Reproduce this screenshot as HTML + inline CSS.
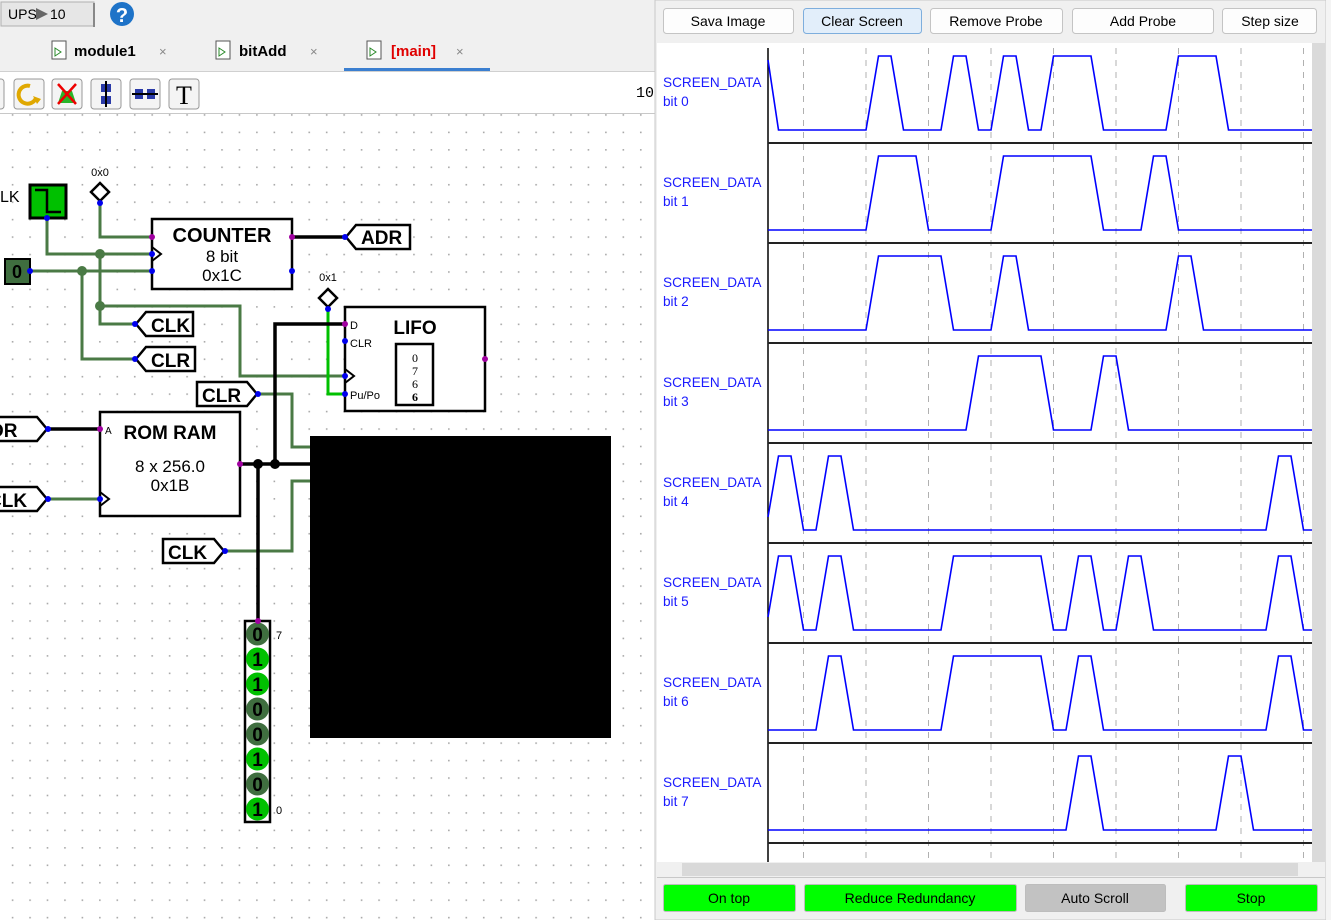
<!DOCTYPE html>
<html><head><meta charset="utf-8"><style>
html,body{margin:0;padding:0;width:1331px;height:920px;overflow:hidden;background:#f0f0f0;font-family:"Liberation Sans",sans-serif}
svg{display:block}
</style></head><body>
<svg width="1331" height="920" viewBox="0 0 1331 920" xmlns="http://www.w3.org/2000/svg" font-family="Liberation Sans, sans-serif">
<defs>
<pattern id="dots" x="3.8" y="228.3" width="17.45" height="17.45" patternUnits="userSpaceOnUse">
<rect x="8" y="8" width="1.6" height="1.6" fill="#a8a8a8"/>
</pattern>
</defs>
<rect x="0" y="0" width="655" height="72" fill="#f0f0f0"/>
<rect x="1" y="2" width="93" height="24" fill="#e6e6e6" stroke="#b0b0b0"/>
<line x1="94" y1="3" x2="94" y2="27" stroke="#888" stroke-width="2"/>
<text x="8" y="19" font-size="14" fill="#000">UPS</text>
<polygon points="36,8 36,20 48,14" fill="#666"/>
<text x="50" y="19" font-size="14">10</text>
<circle cx="122" cy="14" r="12" fill="#1e73c8"/>
<text x="122" y="22" font-size="20" font-weight="bold" fill="#fff" text-anchor="middle">?</text>
<g font-size="15" font-weight="bold">
<rect x="52" y="41" width="14" height="18" fill="#fff" stroke="#555"/><polygon points="55,48 55,56 61,52" fill="none" stroke="#2a8a2a"/>
<text x="74" y="56">module1</text><text x="159" y="56" font-weight="normal" fill="#888" font-size="13">×</text>
<rect x="216" y="41" width="14" height="18" fill="#fff" stroke="#555"/><polygon points="219,48 219,56 225,52" fill="none" stroke="#2a8a2a"/>
<text x="239" y="56">bitAdd</text><text x="310" y="56" font-weight="normal" fill="#888" font-size="13">×</text>
<rect x="367" y="41" width="14" height="18" fill="#fff" stroke="#555"/><polygon points="370,48 370,56 376,52" fill="none" stroke="#2a8a2a"/>
<text x="391" y="56" fill="#e00000">[main]</text><text x="456" y="56" font-weight="normal" fill="#888" font-size="13">×</text>
</g>
<rect x="344" y="68" width="146" height="3" fill="#3b7fd0"/>
<line x1="0" y1="71.5" x2="655" y2="71.5" stroke="#d0d0d0"/>
<rect x="0" y="72" width="655" height="848" fill="#fff"/>
<line x1="0" y1="113.5" x2="655" y2="113.5" stroke="#c8c8c8"/>
<rect x="0" y="114" width="655" height="806" fill="url(#dots)"/>
<g fill="#f4f4f4" stroke="#999">
<rect x="-6" y="79" width="10" height="30" rx="3"/>
<rect x="14" y="79" width="30" height="30" rx="3"/>
<rect x="52" y="79" width="30" height="30" rx="3"/>
<rect x="91" y="79" width="30" height="30" rx="3"/>
<rect x="130" y="79" width="30" height="30" rx="3"/>
<rect x="169" y="79" width="30" height="30" rx="3"/>
</g>
<path d="M36,98 A9,9 0 1 1 30,86" fill="none" stroke="#e0a800" stroke-width="4"/>
<polygon points="33,96 41,99 37,104" fill="#e0a800"/>
<polygon points="62,91 72,91 76,103 58,103" fill="#2ab52a"/>
<line x1="58" y1="84" x2="76" y2="104" stroke="#e00" stroke-width="2.5"/><line x1="76" y1="84" x2="58" y2="104" stroke="#e00" stroke-width="2.5"/>
<rect x="101" y="84" width="10" height="8" fill="#2a3aa8"/><rect x="101" y="96" width="10" height="8" fill="#2a3aa8"/><line x1="106" y1="81" x2="106" y2="107" stroke="#000" stroke-width="2"/>
<rect x="135" y="89" width="8" height="10" fill="#2a3aa8"/><rect x="147" y="89" width="8" height="10" fill="#2a3aa8"/><line x1="132" y1="94" x2="158" y2="94" stroke="#000" stroke-width="2"/>
<text x="184" y="104" font-family="Liberation Serif, serif" font-size="26" text-anchor="middle">T</text>
<text x="636" y="97" font-family="Liberation Mono, monospace" font-size="15">10</text>

<g fill="none" stroke="#4a7a45" stroke-width="3">
<polyline points="100,203 100,237 152,237"/>
<polyline points="47,218 47,254 152,254"/>
<polyline points="30,271 152,271"/>
<polyline points="100,254 100,324 135,324"/>
<polyline points="100,306 240,306 240,376 345,376"/>
<polyline points="82,271 82,359 135,359"/>
<polyline points="258,394 292,394 292,447 310,447"/>
<polyline points="225,551 292,551 292,481 310,481"/>
<polyline points="48,499 100,499"/>
</g>
<polyline points="328,309 328,394 345,394" fill="none" stroke="#00c000" stroke-width="3"/>
<g fill="none" stroke="#000" stroke-width="3.5">
<line x1="292" y1="237" x2="345" y2="237"/>
<polyline points="345,324 275,324 275,464"/>
<line x1="240" y1="464" x2="310" y2="464"/>
<line x1="258" y1="464" x2="258" y2="621"/>
<line x1="48" y1="429" x2="100" y2="429"/>
</g>
<g fill="#4a7a45"><circle cx="100" cy="254" r="5"/><circle cx="82" cy="271" r="5"/><circle cx="100" cy="306" r="5"/></g>
<g fill="#000"><circle cx="258" cy="464" r="5"/><circle cx="275" cy="464" r="5"/></g>

<text x="0" y="202" font-size="16">LK</text>
<rect x="30" y="185" width="36" height="33" fill="#00c000" stroke="#000" stroke-width="3"/>
<polyline points="35,190 47,190 47,212 61,212" fill="none" stroke="#000" stroke-width="2.5"/>
<text x="100" y="176" font-size="11" text-anchor="middle">0x0</text>
<polygon points="100,183 109,192 100,201 91,192" fill="#fff" stroke="#000" stroke-width="2.5"/>
<rect x="5" y="259" width="25" height="25" fill="#3f6e3f" stroke="#000" stroke-width="2"/>
<text x="17" y="278" font-size="18" font-weight="bold" text-anchor="middle">0</text>

<rect x="152" y="219" width="140" height="70" fill="#fff" stroke="#000" stroke-width="2.5"/>
<polyline points="152,247 161,254 152,261" fill="none" stroke="#000" stroke-width="2"/>
<text x="222" y="242" font-size="20" font-weight="bold" text-anchor="middle">COUNTER</text>
<text x="222" y="262" font-size="17" text-anchor="middle">8 bit</text>
<text x="222" y="281" font-size="17" text-anchor="middle">0x1C</text>

<g fill="#fff" stroke="#000" stroke-width="2.5">
<polygon points="346,237 356,225 410,225 410,249 356,249"/>
<polygon points="136,324 146,312 193,312 193,336 146,336"/>
<polygon points="136,359 146,347 195,347 195,371 146,371"/>
<polygon points="257,394 247,382 197,382 197,406 247,406"/>
<polygon points="224,551 214,539 163,539 163,563 214,563"/>
<polygon points="47,429 37,417 -10,417 -10,441 37,441"/>
<polygon points="47,499 37,487 -10,487 -10,511 37,511"/>
</g>
<g font-size="19" font-weight="bold">
<text x="361" y="244">ADR</text>
<text x="151" y="332">CLK</text>
<text x="151" y="367">CLR</text>
<text x="202" y="402">CLR</text>
<text x="168" y="559">CLK</text>
<text x="-10" y="437">DR</text>
<text x="-12" y="507">CLK</text>
</g>

<text x="328" y="281" font-size="11" text-anchor="middle">0x1</text>
<polygon points="328,289 337,298 328,307 319,298" fill="#fff" stroke="#000" stroke-width="2.5"/>
<rect x="345" y="307" width="140" height="104" fill="#fff" stroke="#000" stroke-width="2.5"/>
<polyline points="345,369 354,376 345,383" fill="none" stroke="#000" stroke-width="2"/>
<text x="415" y="334" font-size="19" font-weight="bold" text-anchor="middle">LIFO</text>
<text x="350" y="329" font-size="11">D</text>
<text x="350" y="347" font-size="11">CLR</text>
<text x="350" y="399" font-size="11">Pu/Po</text>
<rect x="396" y="344" width="37" height="61" fill="#fff" stroke="#000" stroke-width="2.5"/>
<g font-family="Liberation Serif, serif" font-size="12" text-anchor="middle">
<text x="415" y="362">0</text><text x="415" y="375">7</text><text x="415" y="388">6</text><text x="415" y="401" font-weight="bold">6</text>
</g>

<rect x="100" y="412" width="140" height="104" fill="#fff" stroke="#000" stroke-width="2.5"/>
<polyline points="100,492 109,499 100,506" fill="none" stroke="#000" stroke-width="2"/>
<text x="105" y="434" font-size="10">A</text>
<text x="170" y="439" font-size="19" font-weight="bold" text-anchor="middle">ROM RAM</text>
<text x="170" y="472" font-size="17" text-anchor="middle">8 x 256.0</text>
<text x="170" y="491" font-size="17" text-anchor="middle">0x1B</text>

<rect x="310" y="436" width="301" height="302" fill="#000"/>

<rect x="245" y="621" width="25" height="201" fill="#fff" stroke="#000" stroke-width="2.5"/>
<g stroke="none">
<circle cx="257.5" cy="634" r="11.5" fill="#3f6e3f"/><circle cx="257.5" cy="659" r="11.5" fill="#00c000"/>
<circle cx="257.5" cy="684" r="11.5" fill="#00c000"/><circle cx="257.5" cy="709" r="11.5" fill="#3f6e3f"/>
<circle cx="257.5" cy="734" r="11.5" fill="#3f6e3f"/><circle cx="257.5" cy="759" r="11.5" fill="#00c000"/>
<circle cx="257.5" cy="784" r="11.5" fill="#3f6e3f"/><circle cx="257.5" cy="809" r="11.5" fill="#00c000"/>
</g>
<g font-size="19" font-weight="bold" text-anchor="middle">
<text x="257.5" y="641">0</text><text x="257.5" y="666">1</text><text x="257.5" y="691">1</text><text x="257.5" y="716">0</text>
<text x="257.5" y="741">0</text><text x="257.5" y="766">1</text><text x="257.5" y="791">0</text><text x="257.5" y="816">1</text>
</g>
<text x="276" y="639" font-size="11">7</text><text x="276" y="814" font-size="11">0</text>

<g fill="#0000ee"><circle cx="47" cy="218" r="3"/><circle cx="100" cy="203" r="3"/><circle cx="30" cy="271" r="3"/>
<circle cx="152" cy="254" r="3"/><circle cx="152" cy="271" r="3"/><circle cx="292" cy="271" r="3"/><circle cx="345" cy="237" r="3"/>
<circle cx="135" cy="324" r="3"/><circle cx="135" cy="359" r="3"/><circle cx="328" cy="309" r="3"/><circle cx="345" cy="341" r="3"/>
<circle cx="345" cy="376" r="3"/><circle cx="345" cy="394" r="3"/><circle cx="258" cy="394" r="3"/><circle cx="225" cy="551" r="3"/>
<circle cx="48" cy="429" r="3"/><circle cx="48" cy="499" r="3"/><circle cx="100" cy="499" r="3"/></g>
<g fill="#a000a0"><circle cx="152" cy="237" r="3"/><circle cx="292" cy="237" r="3"/><circle cx="345" cy="324" r="3"/><circle cx="485" cy="359" r="3"/>
<circle cx="100" cy="429" r="3"/><circle cx="240" cy="464" r="3"/><circle cx="258" cy="621" r="3"/></g>

<rect x="655" y="0" width="671" height="920" fill="#f0f0f0" stroke="#c8c8c8"/>
<rect x="1326" y="0" width="5" height="920" fill="#f4f4f4"/>
<g fill="#fdfdfd" stroke="#c4c4c4">
<rect x="663.5" y="8.5" width="130" height="25" rx="3"/>
<rect x="803.5" y="8.5" width="118" height="25" rx="3" fill="#e2eefa" stroke="#7eaedd"/>
<rect x="930.5" y="8.5" width="132" height="25" rx="3"/>
<rect x="1072.5" y="8.5" width="141" height="25" rx="3"/>
<rect x="1222.5" y="8.5" width="94" height="25" rx="3"/>
</g>
<g font-size="14" text-anchor="middle" fill="#000">
<text x="728" y="26">Sava Image</text><text x="862" y="26">Clear Screen</text><text x="996" y="26">Remove Probe</text>
<text x="1143" y="26">Add Probe</text><text x="1270" y="26">Step size</text>
</g>
<rect x="657" y="43" width="655" height="819" fill="#fff"/>
<rect x="1312" y="43" width="13" height="819" fill="#dadada"/>
<rect x="657" y="862" width="668" height="15" fill="#f0f0f0"/>
<rect x="682" y="863" width="616" height="13" fill="#d9d9d9"/>
<g stroke="#b0b0b0" stroke-width="1" stroke-dasharray="6,6">
<line x1="803.5" y1="48" x2="803.5" y2="862"/><line x1="866" y1="48" x2="866" y2="862"/><line x1="928.5" y1="48" x2="928.5" y2="862"/>
<line x1="991" y1="48" x2="991" y2="862"/><line x1="1053.5" y1="48" x2="1053.5" y2="862"/><line x1="1116" y1="48" x2="1116" y2="862"/>
<line x1="1178.5" y1="48" x2="1178.5" y2="862"/><line x1="1241" y1="48" x2="1241" y2="862"/><line x1="1303.5" y1="48" x2="1303.5" y2="862"/>
</g>
<line x1="768" y1="48" x2="768" y2="862" stroke="#000" stroke-width="1.5"/>
<g stroke="#222" stroke-width="2">
<line x1="768" y1="143" x2="1312" y2="143"/><line x1="768" y1="243" x2="1312" y2="243"/><line x1="768" y1="343" x2="1312" y2="343"/>
<line x1="768" y1="443" x2="1312" y2="443"/><line x1="768" y1="543" x2="1312" y2="543"/><line x1="768" y1="643" x2="1312" y2="643"/>
<line x1="768" y1="743" x2="1312" y2="743"/><line x1="768" y1="843" x2="1312" y2="843"/>
</g>
<g font-size="13.6" fill="#1a1aff">
<text x="663" y="87">SCREEN_DATA</text><text x="663" y="106">bit 0</text>
<text x="663" y="187">SCREEN_DATA</text><text x="663" y="206">bit 1</text>
<text x="663" y="287">SCREEN_DATA</text><text x="663" y="306">bit 2</text>
<text x="663" y="387">SCREEN_DATA</text><text x="663" y="406">bit 3</text>
<text x="663" y="487">SCREEN_DATA</text><text x="663" y="506">bit 4</text>
<text x="663" y="587">SCREEN_DATA</text><text x="663" y="606">bit 5</text>
<text x="663" y="687">SCREEN_DATA</text><text x="663" y="706">bit 6</text>
<text x="663" y="787">SCREEN_DATA</text><text x="663" y="806">bit 7</text>
</g>
<g fill="none" stroke="#0000ff" stroke-width="1.6">
<polyline points="768,60 778.5,130 866,130 878.5,56 891,56 903.5,130 941,130 953.5,56 966,56 978.5,130 991,130 1003.5,56 1016,56 1028.5,130 1041,130 1053.5,56 1091,56 1103.5,130 1166,130 1178.5,56 1216,56 1228.5,130 1312,130"/>
<polyline transform="translate(0,100)" points="768,130 866,130 878.5,56 916,56 928.5,130 991,130 1003.5,56 1091,56 1103.5,130 1141,130 1153.5,56 1166,56 1178.5,130 1312,130"/>
<polyline transform="translate(0,200)" points="768,130 866,130 878.5,56 941,56 953.5,130 991,130 1003.5,56 1016,56 1028.5,130 1166,130 1178.5,56 1191,56 1203.5,130 1312,130"/>
<polyline transform="translate(0,300)" points="768,130 966,130 978.5,56 1041,56 1053.5,130 1091,130 1103.5,56 1116,56 1128.5,130 1312,130"/>
<polyline transform="translate(0,400)" points="768,117 778.5,56 791,56 803.5,130 816,130 828.5,56 841,56 853.5,130 1266,130 1278.5,56 1291,56 1303.5,130 1312,130"/>
<polyline transform="translate(0,500)" points="768,117 778.5,56 791,56 803.5,130 816,130 828.5,56 841,56 853.5,130 941,130 953.5,56 1041,56 1053.5,130 1066,130 1078.5,56 1091,56 1103.5,130 1116,130 1128.5,56 1141,56 1153.5,130 1266,130 1278.5,56 1291,56 1303.5,130 1312,130"/>
<polyline transform="translate(0,600)" points="768,130 816,130 828.5,56 841,56 853.5,130 941,130 953.5,56 1041,56 1053.5,130 1066,130 1078.5,56 1091,56 1103.5,130 1266,130 1278.5,56 1291,56 1303.5,130 1312,130"/>
<polyline transform="translate(0,700)" points="768,130 1066,130 1078.5,56 1091,56 1103.5,130 1216,130 1228.5,56 1241,56 1253.5,130 1312,130"/>
</g>
<line x1="657" y1="877.5" x2="1325" y2="877.5" stroke="#c8c8c8"/>
<g stroke="#bdbdbd">
<rect x="663.5" y="884.5" width="132" height="27" rx="2" fill="#00ff00"/>
<rect x="804.5" y="884.5" width="212" height="27" rx="2" fill="#00ff00"/>
<rect x="1025.5" y="884.5" width="140" height="27" rx="2" fill="#c2c2c2"/>
<rect x="1185.5" y="884.5" width="132" height="27" rx="2" fill="#00ff00"/>
</g>
<g font-size="14" text-anchor="middle">
<text x="729" y="903">On top</text><text x="910" y="903">Reduce Redundancy</text>
<text x="1095" y="903">Auto Scroll</text><text x="1251" y="903">Stop</text>
</g>
</svg>
</body></html>
